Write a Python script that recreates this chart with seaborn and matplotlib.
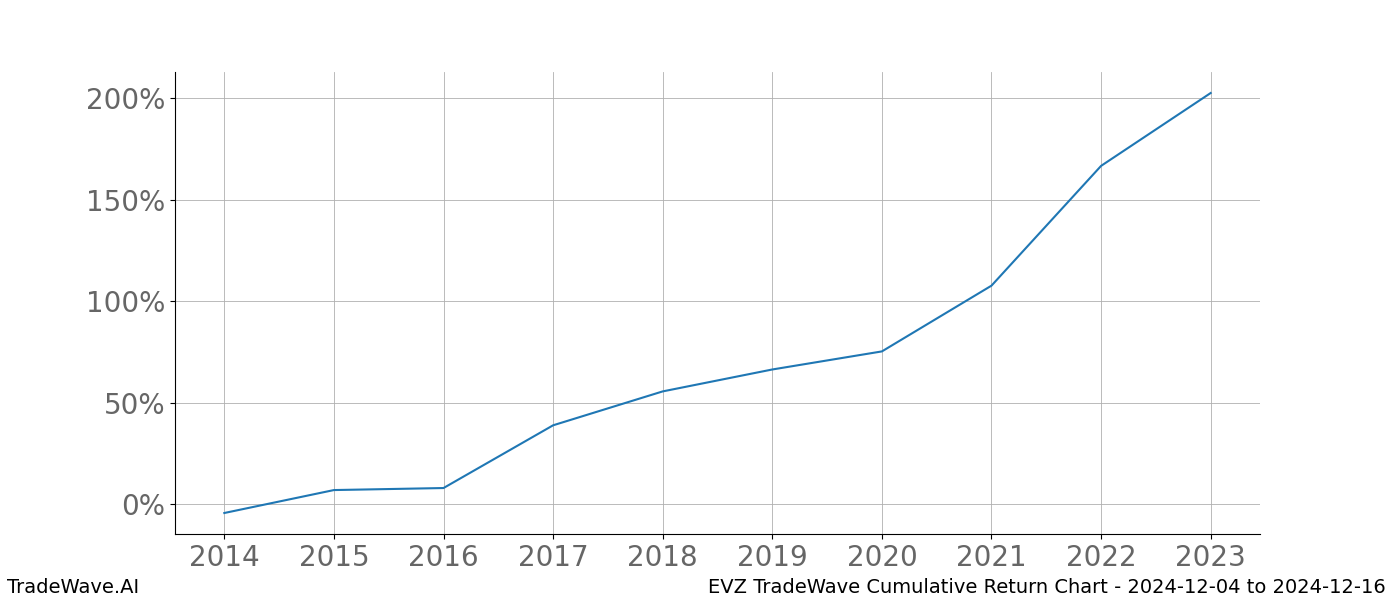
import matplotlib
matplotlib.use('Agg')
import matplotlib.pyplot as plt
import matplotlib.ticker as mticker
import seaborn as sns
import pandas as pd

years = [2014, 2015, 2016, 2017, 2018, 2019, 2020, 2021, 2022, 2023]
returns = [-4.4, 6.9, 7.9, 38.8, 55.5, 66.3, 75.2, 107.6, 166.6, 202.5]

df = pd.DataFrame({'year': years, 'ret': returns})

fig, ax = plt.subplots(figsize=(14, 6), dpi=100)
fig.subplots_adjust(left=0.125, right=0.9, top=0.88, bottom=0.11)

sns.lineplot(x='year', y='ret', data=df, color='#1f77b4', linewidth=1.5, ax=ax)

ax.set_xticks(years)
ax.yaxis.set_major_formatter(mticker.FuncFormatter(lambda v, p: f'{v:.0f}%'))
ax.tick_params(axis='both', labelsize=20, colors='#666666', labelcolor='#666666')
ax.tick_params(axis='both', color='black')
ax.grid(True, color='#b0b0b0', linewidth=0.6)
ax.spines['top'].set_visible(False)
ax.spines['right'].set_visible(False)
ax.set_xlabel('')
ax.set_ylabel('')

fig.text(0.005, 0.005, 'TradeWave.AI', fontsize=14, ha='left', va='bottom')
fig.text(0.99, 0.005, 'EVZ TradeWave Cumulative Return Chart - 2024-12-04 to 2024-12-16',
         fontsize=14, ha='right', va='bottom')

fig.savefig('out.png')
